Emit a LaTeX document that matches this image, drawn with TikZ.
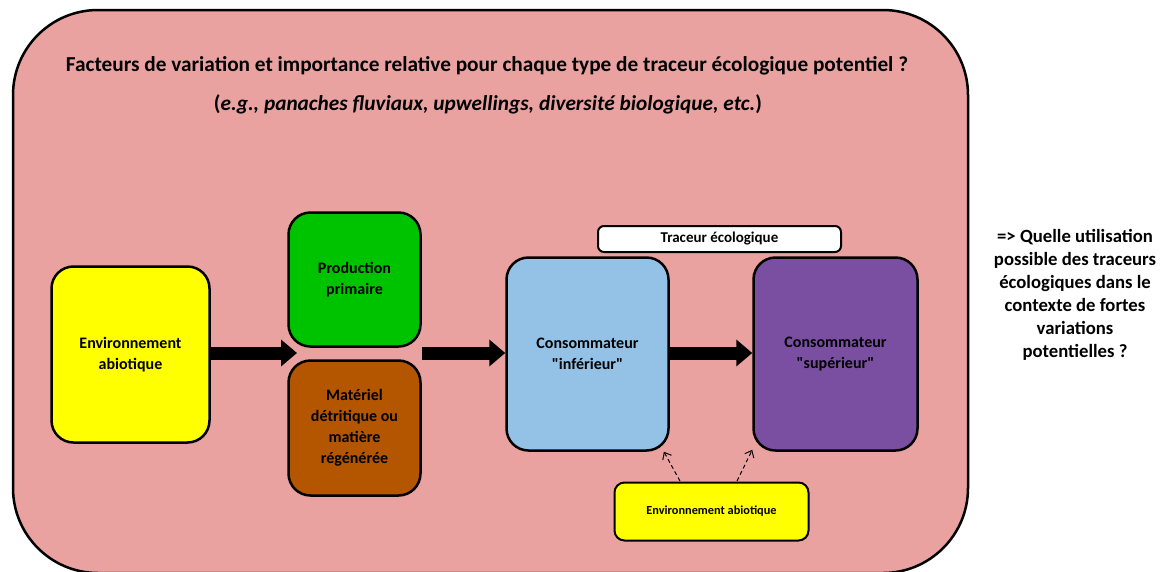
\documentclass[tikz,border=0pt]{standalone}
\usepackage{fontspec}
\setmainfont{Carlito}
\usepackage{tikz}
\usetikzlibrary{arrows.meta}
\definecolor{pinkbg}{HTML}{EAA2A0}
\definecolor{abioyellow}{HTML}{FFFF00}
\definecolor{prodgreen}{HTML}{00C300}
\definecolor{detribrown}{HTML}{B45500}
\definecolor{infblue}{HTML}{93C2E6}
\definecolor{suppurple}{HTML}{7A4EA1}

\begin{document}
\begin{tikzpicture}[x=1pt,y=-1pt]
\tikzset{box/.style={draw,line width=2.5pt,rounded corners=22pt,align=center,inner sep=0pt,font=\bfseries\fontsize{16}{21}\selectfont},
fat/.style={line width=13pt,-{Triangle[length=16pt,width=26pt]}},
thin/.style={line width=1pt,dash pattern=on 4pt off 3pt,-{Straight Barb[length=6pt,width=10pt]}}}
\useasboundingbox (0,0) rectangle (1167,571);
\draw[line width=2.5pt,fill=pinkbg,rounded corners=85pt] (13,10) rectangle (968,573);

\node (title) at (487,66) [font=\bfseries\fontsize{21.3}{24}\selectfont] {Facteurs de variation et importance relative pour chaque type de traceur écologique potentiel ?};
\node (sub) at (488,104) [font=\bfseries\fontsize{21.3}{24}\selectfont] {(\textit{e.g., panaches fluviaux, upwellings, diversité biologique, etc.})};

\node (abio) at (130.5,354.5) [box,fill=abioyellow,minimum width=158pt,minimum height=176pt] {Environnement\\abiotique};
\node (prod) at (354.5,279.5) [box,fill=prodgreen,minimum width=132pt,minimum height=134pt] {Production\\primaire};
\node (detri) at (354.5,428) [box,fill=detribrown,minimum width=132pt,minimum height=135pt] {Matériel\\détritique ou\\matière\\régénérée};
\node (inf) at (587.5,354) [box,fill=infblue,minimum width=162pt,minimum height=193pt] {Consommateur\\\textquotedbl inférieur\textquotedbl};
\node (sup) at (835.5,354) [box,fill=suppurple,minimum width=164pt,minimum height=193pt] {Consommateur\\\textquotedbl supérieur\textquotedbl};
\node (tracer) at (719.5,239) [box,fill=white,line width=2pt,rounded corners=6pt,minimum width=243pt,minimum height=26pt,font=\bfseries\fontsize{15}{17}\selectfont] {Traceur écologique};
\node (abio2) at (711.5,511.5) [box,fill=abioyellow,line width=2pt,rounded corners=10pt,minimum width=194pt,minimum height=58pt,font=\bfseries\fontsize{12.3}{14}\selectfont] {Environnement abiotique};

\node (question) at (1075,295) [align=center,font=\bfseries\fontsize{18.7}{23}\selectfont] {=> Quelle utilisation\\possible des traceurs\\écologiques dans le\\contexte de fortes\\variations\\potentielles ?};

\coordinate (gapL) at (297,353);
\coordinate (gapR) at (422,353);
\coordinate (d1) at (680,481);
\coordinate (d2) at (737,481);

\draw[fat] (abio.east |- gapL) -- (gapL);
\draw[fat] (gapR) -- (inf.west |- gapR);
\draw[fat] (inf.east |- gapR) -- (sup.west |- gapR);
\draw[thin] (d1) -- (inf.-52);
\draw[thin] (d2) -- (sup.-131);
\end{tikzpicture}
\end{document}
